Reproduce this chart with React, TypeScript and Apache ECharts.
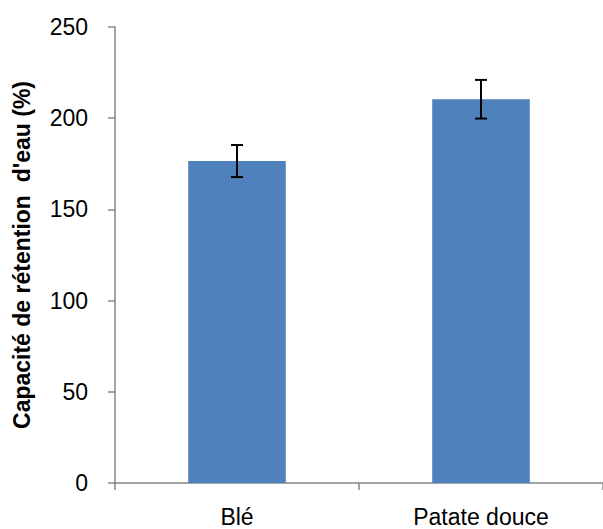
import React, { useEffect, useRef } from "react";
import * as echarts from "echarts";

const categories = ["Blé", "Patate douce"];
const values = [176.5, 210.4];
const errors = [8.8, 10.6];
const yTicks = { min: 0, max: 250, interval: 50 };

export default function App() {
  const ref = useRef<HTMLDivElement>(null);
  useEffect(() => {
    if (!ref.current) return;
    const chart = echarts.init(ref.current, null, { renderer: "svg" });
    const errData = values.map((v, i) => [i, v - errors[i], v + errors[i]]);
    chart.setOption({
      animation: false,
      grid: { left: 115, right: 0, top: 27, bottom: 46, containLabel: false },
      xAxis: {
        type: "category",
        data: categories,
        axisLine: { lineStyle: { color: "#868686", width: 1.5 } },
        axisTick: { show: true, length: 7, lineStyle: { color: "#868686", width: 1.5 } },
        axisLabel: { color: "#000", fontSize: 23, fontFamily: "Liberation Sans", margin: 22 },
      },
      yAxis: {
        type: "value",
        min: yTicks.min,
        max: yTicks.max,
        interval: yTicks.interval,
        name: "Capacité de rétention  d'eau (%)",
        nameLocation: "middle",
        nameGap: 82,
        nameTextStyle: { color: "#000", fontSize: 23, fontWeight: "bold", fontFamily: "Liberation Sans" },
        axisLine: { show: true, lineStyle: { color: "#868686", width: 1.5 } },
        axisTick: { show: true, length: 7, lineStyle: { color: "#868686", width: 1.5 } },
        splitLine: { show: false },
        axisLabel: { color: "#000", fontSize: 23, fontFamily: "Liberation Sans", margin: 27 },
      },
      series: [
        {
          type: "bar",
          data: values,
          barWidth: "40%",
          itemStyle: { color: "#4F81BD" },
        },
        {
          type: "custom",
          data: errData,
          z: 10,
          renderItem: (params: any, api: any) => {
            const x = api.value(0);
            const lo = api.coord([x, api.value(1)]);
            const hi = api.coord([x, api.value(2)]);
            const hw = 6;
            const style = { stroke: "#000", lineWidth: 2 };
            return {
              type: "group",
              children: [
                { type: "line", shape: { x1: hi[0], y1: hi[1], x2: lo[0], y2: lo[1] }, style },
                { type: "line", shape: { x1: hi[0] - hw, y1: hi[1], x2: hi[0] + hw, y2: hi[1] }, style },
                { type: "line", shape: { x1: lo[0] - hw, y1: lo[1], x2: lo[0] + hw, y2: lo[1] }, style },
              ],
            };
          },
        },
      ],
    });
    return () => chart.dispose();
  }, []);
  return (
    <div
      ref={ref}
      style={{ position: "fixed", left: 0, top: 0, width: 603, height: 529, background: "#fff" }}
    />
  );
}
